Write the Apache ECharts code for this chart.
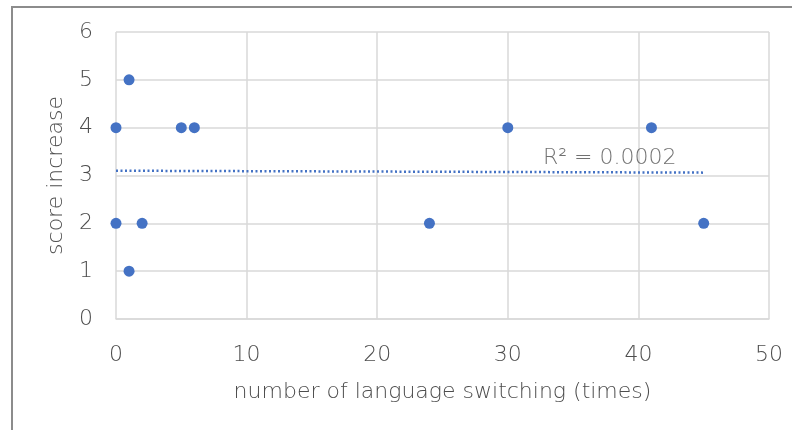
<!DOCTYPE html>
<html>
<head>
<meta charset="utf-8">
<script src="https://cdn.jsdelivr.net/npm/echarts@6/dist/echarts.min.js"></script>
<style>
html,body{margin:0;padding:0;background:#fff;}
#frame{position:absolute;left:11px;top:6px;width:800px;height:440px;border:2px solid #8c8c8c;box-sizing:border-box;}
#c{position:absolute;left:0;top:0;width:792px;height:430px;}
</style>
</head>
<body>
<div id="frame"></div>
<div id="c"></div>
<script>
const switchCounts = [0, 0, 1, 1, 2, 5, 6, 24, 30, 41, 45];
const scoreIncrease = [4, 2, 5, 1, 2, 4, 4, 2, 4, 4, 2];
const trendX = [0, 45];
const trendY = [3.10, 3.06];
const r2Label = 'R² = 0.0002';
const r2Pos = [37.8, 3.35];
const xTicks = [0, 10, 20, 30, 40, 50];
const yTicks = [0, 1, 2, 3, 4, 5, 6];

const FONT = '"DejaVu Sans", "Noto Sans", sans-serif';
const FW = 200;
const FS = 22;
const TXT = '#4d4d4d';
const BLUE = '#4472C4';

const chart = echarts.init(document.getElementById('c'), null, {renderer: 'canvas'});
chart.setOption({
  animation: false,
  backgroundColor: 'transparent',
  grid: {left: 116, right: 23, top: 32, bottom: 111, containLabel: false},
  xAxis: {
    type: 'value', min: xTicks[0], max: xTicks[xTicks.length - 1], interval: 10,
    name: 'number of language switching (times)', nameLocation: 'middle', nameGap: 62,
    nameMoveOverlap: false,
    nameTextStyle: {fontFamily: FONT, fontSize: FS, fontWeight: FW, color: TXT},
    axisLine: {show: true, lineStyle: {color: '#d9d9d9', width: 1.5}},
    axisTick: {show: false},
    axisLabel: {fontFamily: FONT, fontSize: FS, fontWeight: FW, color: TXT, margin: 25},
    splitLine: {show: true, lineStyle: {color: '#d9d9d9', width: 1.5}}
  },
  yAxis: {
    type: 'value', min: yTicks[0], max: yTicks[yTicks.length - 1], interval: 1,
    name: 'score increase', nameLocation: 'middle', nameGap: 49,
    nameMoveOverlap: false,
    nameTextStyle: {fontFamily: FONT, fontSize: FS, fontWeight: FW, color: TXT},
    axisLine: {show: false},
    axisTick: {show: false},
    axisLabel: {fontFamily: FONT, fontSize: FS, fontWeight: FW, color: TXT, margin: 23},
    splitLine: {show: true, lineStyle: {color: '#d9d9d9', width: 1.5}}
  },
  series: [
    {
      type: 'line',
      data: trendX.map((x, i) => [x, trendY[i]]),
      symbol: 'none',
      lineStyle: {color: BLUE, width: 2.5, type: [2, 2.5]},
      z: 2
    },
    {
      type: 'scatter',
      data: switchCounts.map((x, i) => [x, scoreIncrease[i]]),
      symbol: 'circle', symbolSize: 11,
      itemStyle: {color: BLUE, opacity: 1},
      z: 3
    },
    {
      type: 'scatter',
      data: [r2Pos],
      symbolSize: 0,
      label: {show: true, position: 'inside', formatter: r2Label, fontFamily: FONT, fontSize: FS, fontWeight: FW, color: TXT},
      silent: true,
      z: 4
    }
  ]
});
</script>
</body>
</html>
